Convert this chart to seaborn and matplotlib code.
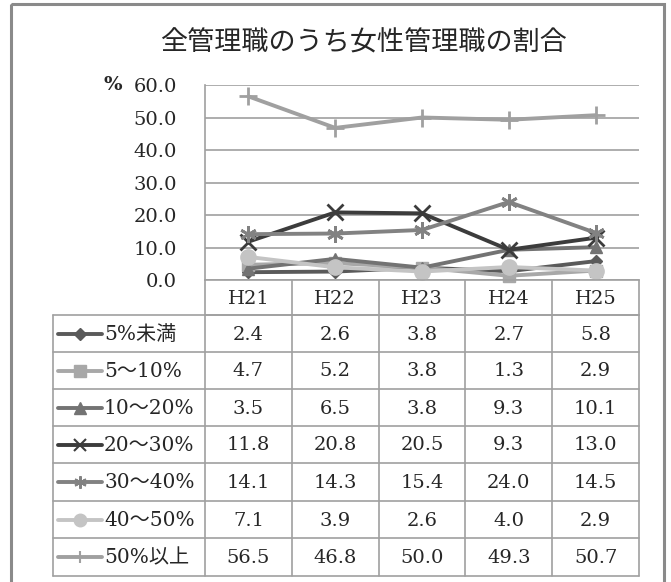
import matplotlib
matplotlib.use('Agg')
import matplotlib.pyplot as plt
from matplotlib.patches import Rectangle
import pandas as pd
import seaborn as sns

years = ['H21', 'H22', 'H23', 'H24', 'H25']
groups = ['5%未満', '5～10%', '10～20%', '20～30%', '30～40%', '40～50%', '50%以上']
v_lt5 = [2.4, 2.6, 3.8, 2.7, 5.8]
v_5_10 = [4.7, 5.2, 3.8, 1.3, 2.9]
v_10_20 = [3.5, 6.5, 3.8, 9.3, 10.1]
v_20_30 = [11.8, 20.8, 20.5, 9.3, 13.0]
v_30_40 = [14.1, 14.3, 15.4, 24.0, 14.5]
v_40_50 = [7.1, 3.9, 2.6, 4.0, 2.9]
v_ge50 = [56.5, 46.8, 50.0, 49.3, 50.7]
values = [v_lt5, v_5_10, v_10_20, v_20_30, v_30_40, v_40_50, v_ge50]

# styles per series
colors = ['#5a5a5a', '#a8a8a8', '#737373', '#3c3c3c', '#828282', '#c4c4c4', '#a0a0a0']
markers = ['D', 's', '^', 'x', (6, 2, 0), 'o', '+']
msizes = [6, 9, 9, 12, 12, 11, 13]

sns.set_style('white')
num_font = ['DejaVu Serif', 'Noto Sans CJK JP']
plt.rcParams['font.family'] = num_font

W, H = 671, 582
fig = plt.figure(figsize=(W / 100, H / 100), dpi=100)

# pixel layout
left, right = 205, 639
top, bottom = 85, 280
tab_left = 53
row_edges = [280, 315, 352, 389, 426, 463, 501, 538, 576]
colw = (right - left) / len(years)

ax = fig.add_axes([left / W, 1 - bottom / H, (right - left) / W, (bottom - top) / H])

df = pd.DataFrame({
    'year': years * len(groups),
    'group': [g for g in groups for _ in years],
    'value': [v for vals in values for v in vals],
})

for g, c, m, ms in zip(groups, colors, markers, msizes):
    sub = df[df['group'] == g]
    filled = m in ['D', 's', '^', 'o']
    sns.lineplot(data=sub, x='year', y='value', color=c, marker=m,
                 markersize=ms, linewidth=2.8, markeredgecolor=c,
                 markeredgewidth=1.0 if filled else 2.0, ax=ax,
                 legend=False, clip_on=False)

ax.set_xlim(-0.5, len(years) - 0.5)
ax.set_ylim(0, 60)
ax.set_yticks(range(0, 61, 10))
ax.set_yticklabels([f'{t:.1f}' for t in range(0, 61, 10)], fontsize=14,
                   family=num_font)
ax.set_xticks([])
ax.set_xlabel('')
ax.set_ylabel('')
ax.tick_params(axis='y', length=0, pad=20)
ax.grid(axis='y', color='#a0a0a0', linewidth=1.2)
ax.set_axisbelow(True)
for s in ['top', 'right']:
    ax.spines[s].set_visible(False)
ax.spines['left'].set_color('#a0a0a0')
ax.spines['bottom'].set_color('#a0a0a0')
ax.spines['left'].set_linewidth(1.2)
ax.spines['bottom'].set_linewidth(1.2)

# overlay in pixel coordinates for title, frame and data table
ov = fig.add_axes([0, 0, 1, 1], zorder=-1)
ov.set_xlim(0, W)
ov.set_ylim(H, 0)
ov.axis('off')

ov.add_patch(Rectangle((11, 4), 653, 600, fill=False, edgecolor='#8a8a8a',
                       linewidth=2.2))
ov.text(363, 43, '全管理職のうち女性管理職の割合', ha='center', va='center',
        fontsize=19.5, family=['Noto Sans CJK JP'])
ov.text(113, 85, '%', ha='center', va='center', fontsize=14,
        family=num_font, fontweight='bold')

grid_c = '#a0a0a0'
col_edges = [left + i * colw for i in range(len(years) + 1)]
# header row
for xe in col_edges:
    ov.plot([xe, xe], [row_edges[0], row_edges[-1]], color=grid_c, lw=1.2)
ov.plot([tab_left, tab_left], [row_edges[1], row_edges[-1]], color=grid_c, lw=1.2)
ov.plot([left, right], [row_edges[1], row_edges[1]], color=grid_c, lw=1.2)
for ye in row_edges[1:]:
    ov.plot([tab_left, right], [ye, ye], color=grid_c, lw=1.2)

for i, y in enumerate(years):
    ov.text(left + (i + 0.5) * colw, (row_edges[0] + row_edges[1]) / 2 + 1, y,
            ha='center', va='center', fontsize=14, family=num_font)

for r, (g, vals, c, m) in enumerate(zip(groups, values, colors, markers)):
    yc = (row_edges[r + 1] + row_edges[r + 2]) / 2
    filled = m in ['D', 's', '^', 'o']
    ov.plot([58, 102], [yc, yc], color=c, lw=2.8, solid_capstyle='round')
    ov.plot([80], [yc], marker=m, color=c, markersize=9 if m != 'D' else 6,
            markeredgecolor=c, markeredgewidth=1.0 if filled else 1.5)
    ov.text(104, yc + 1, g, ha='left', va='center', fontsize=14.5,
            family=num_font)
    for i, v in enumerate(vals):
        ov.text(left + (i + 0.5) * colw, yc + 1, f'{v:.1f}', ha='center',
                va='center', fontsize=14, family=num_font)

fig.savefig('out.png', dpi=100)
